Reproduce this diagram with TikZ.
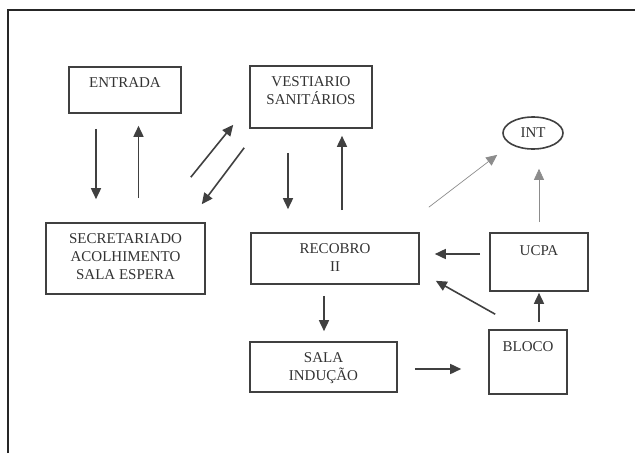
\documentclass[tikz,border=0pt]{standalone}
\usepackage{fontspec}
\setmainfont{Liberation Serif}
\usetikzlibrary{arrows.meta,shapes.geometric}
\tikzset{
  box/.style={draw=black!75, line width=1.6pt, inner sep=0pt},
  lbl/.style={anchor=north, yshift=-11pt, inner sep=0pt, align=center,
    text=black!80, font=\fontsize{15}{18}\selectfont},
  arr/.style={draw=black!75, line width=1.6pt, -{Triangle[length=11pt,width=10pt]}},
  thinarr/.style={draw=black!45, line width=0.7pt, -{Triangle[length=11pt,width=10pt]}}
}
\begin{document}
\begin{tikzpicture}[x=1pt, y=-1pt]
    \useasboundingbox (0,0) rectangle (635,453);
    % Outer frame, cut by the page
    \draw[line width=2pt, black!85] (8,453) -- (8,10) -- (635,10);

    % The rooms
    \node[box, minimum width=112pt, minimum height=46pt,
      label={[lbl]north:ENTRADA}] (entrada) at (125,90) {};
    \node[box, minimum width=122pt, minimum height=62pt,
      label={[lbl]north:VESTIARIO\\SANITÁRIOS}] (vest) at (311,97) {};
    \node[box, minimum width=159pt, minimum height=71pt,
      label={[lbl]north:SECRETARIADO\\ACOLHIMENTO\\SALA ESPERA}] (secr) at (125.5,258.5) {};
    \node[box, minimum width=168pt, minimum height=51pt,
      label={[lbl]north:RECOBRO\\II}] (recobro) at (335,258.5) {};
    \node[box, minimum width=98pt, minimum height=58pt,
      label={[lbl, yshift=-2pt]north:UCPA}] (ucpa) at (539,262) {};
    \node[box, minimum width=147pt, minimum height=50pt,
      label={[lbl]north:SALA\\INDUÇÃO}] (sala) at (323.5,367) {};
    \node[box, minimum width=78pt, minimum height=64pt,
      label={[lbl, yshift=-1pt]north:BLOCO}] (bloco) at (528,362) {};
    \node[box, ellipse, minimum width=60pt, minimum height=32pt,
      text=black!80, font=\fontsize{15}{18}\selectfont] (int) at (533,133) {INT};

    % Entrance and reception
    \draw[arr, shorten <=15pt, shorten >=23pt] ([xshift=-29pt]entrada.south) -- ([xshift=-29.5pt]secr.north);
    \draw[arr, shorten <=24pt, shorten >=12pt] ([xshift=13pt]secr.north) -- ([xshift=13.5pt]entrada.south);
    \draw[arr] ([shift={(-15,-45)}]secr.north east) -- ([shift={(-16,-4)}]vest.south west);
    \draw[arr] ([shift={(-5,19)}]vest.south west) -- ([shift={(-4,-18)}]secr.north east);

    % Changing rooms and recovery
    \draw[arr, shorten <=24pt, shorten >=23pt] ([xshift=-23pt]vest.south) -- ([xshift=-47pt]recobro.north);
    \draw[arr, shorten <=22pt, shorten >=7pt] ([xshift=7pt]recobro.north) -- ([xshift=31pt]vest.south);

    % Towards INT
    \draw[thinarr] ([shift={(9,-25)}]recobro.north east) -- ([shift={(-14,10)}]int.south west);
    \draw[thinarr, shorten <=10pt, shorten >=19pt] (ucpa.north) -- (ucpa.north |- int.south);

    % Surgery circuit
    \draw[arr, shorten <=9pt, shorten >=15pt] ([yshift=8pt]ucpa.west) -- ([yshift=4.5pt]recobro.east);
    \draw[arr] ([shift={(7,-15)}]bloco.north west) -- ([shift={(16,-4)}]recobro.south east);
    \draw[arr, shorten <=7pt, shorten >=1pt] ([xshift=11pt]bloco.north) -- (ucpa.south);
    \draw[arr, shorten <=11pt, shorten >=10pt] ([xshift=-11pt]recobro.south) -- ([xshift=0.5pt]sala.north);
    \draw[arr, shorten <=17pt, shorten >=27pt] ([yshift=-2pt]sala.east) -- ([yshift=-7pt]bloco.west);
\end{tikzpicture}
\end{document}
